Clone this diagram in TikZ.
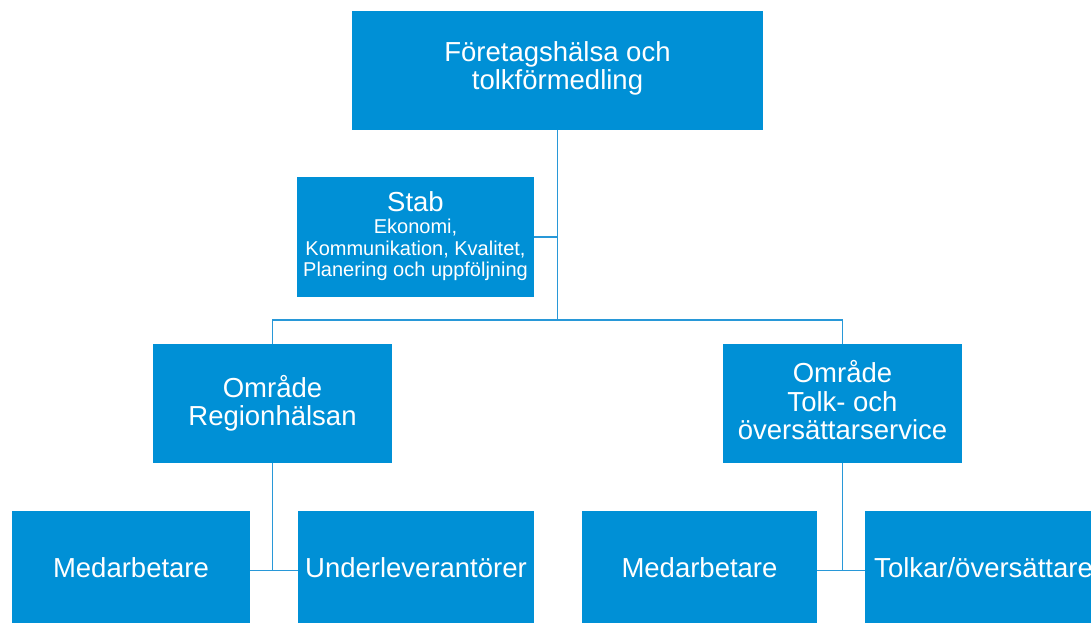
\documentclass[tikz,border=0pt]{standalone}
\usepackage{fontspec}
\setmainfont{Liberation Sans}
\definecolor{boxblue}{RGB}{0,144,214}
\definecolor{lineblue}{RGB}{40,152,216}
\begin{document}
\begin{tikzpicture}[x=1pt,y=-1pt,
  orgbox/.style={rectangle, fill=boxblue, text=white, inner sep=0pt,
    minimum width=237pt, minimum height=119pt, align=center,
    font=\fontsize{27.5}{28.5}\selectfont},
  link/.style={draw=lineblue, line width=1.6pt}]
\useasboundingbox (0,0) rectangle (1091,622);
\clip (0,0) rectangle (1091,622);
\node[orgbox, minimum width=411pt, text depth=10pt] (top) at (557.5,70.5) {Företagshälsa och\\tolkförmedling};
\node[orgbox, minimum height=120pt, text depth=6pt] (stab) at (415.5,237)
  {Stab\\[-6pt]{\fontsize{20}{21}\selectfont Ekonomi,}\\[-7pt]{\fontsize{20}{21}\selectfont Kommunikation, Kvalitet,}\\[-7pt]{\fontsize{20}{21}\selectfont Planering och uppföljning}};
\node[orgbox, minimum width=239pt, text depth=6pt] (reg) at (272.5,403.5) {Område\\Regionhälsan};
\node[orgbox, minimum width=239pt, text depth=7pt] (tolk) at (842.5,403.5) {Område\\Tolk- och\\översättarservice};
\node[orgbox, minimum width=238pt, text depth=5pt] (med1) at (131,570.5) {Medarbetare};
\node[orgbox, minimum width=236pt, text depth=5pt] (under) at (416,570.5) {Underleverantörer};
\node[orgbox, minimum width=235pt, text depth=5pt] (med2) at (699.5,570.5) {Medarbetare};
\node[orgbox, text depth=5pt] (tolkar) at (983.5,570.5) {Tolkar/översättare};
\coordinate (hub) at (557.5,320);
\draw[link] (top.south) -- (hub);
\draw[link] (stab.east) -- (stab.east -| hub);
\draw[link] (reg.north) |- (hub);
\draw[link] (tolk.north) |- (hub);
\draw[link] (reg.south) |- (med1.east);
\draw[link] (reg.south) |- (under.west);
\draw[link] (tolk.south) |- (med2.east);
\draw[link] (tolk.south) |- (tolkar.west);
\end{tikzpicture}
\end{document}
